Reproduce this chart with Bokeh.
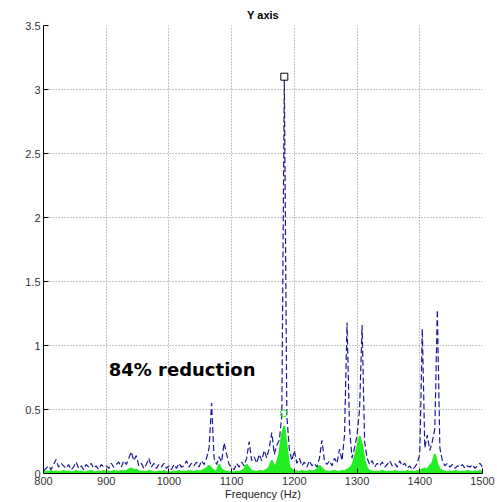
import numpy as np
from bokeh.plotting import figure
from bokeh.models import FixedTicker, CustomJSTickFormatter, Label, Title
from bokeh.embed import file_html
from bokeh.resources import INLINE

# ---- data ----
freq_step = 4
freq = list(range(800, 1501, freq_step))

blue_before = [
    # 800-896
    0.02, 0.04, 0.06, 0.03, 0.07, 0.11, 0.05, 0.08, 0.06, 0.04, 0.07, 0.03, 0.05,
    0.09, 0.04, 0.06, 0.03, 0.07, 0.05, 0.08, 0.04, 0.06, 0.03, 0.07, 0.05,
    # 900-996
    0.06, 0.04, 0.08, 0.05, 0.07, 0.09, 0.05, 0.10, 0.07, 0.12, 0.17, 0.10, 0.14,
    0.06, 0.08, 0.04, 0.07, 0.12, 0.05, 0.08, 0.04, 0.07, 0.05, 0.08, 0.04,
    # 1000-1096
    0.06, 0.03, 0.07, 0.04, 0.08, 0.05, 0.06, 0.10, 0.05, 0.08, 0.06, 0.09, 0.05,
    0.10, 0.07, 0.12, 0.20, 0.55, 0.12, 0.07, 0.13, 0.09, 0.24, 0.15, 0.07,
    # 1100-1196
    0.05, 0.03, 0.08, 0.05, 0.09, 0.06, 0.12, 0.25, 0.10, 0.13, 0.08, 0.15, 0.10,
    0.18, 0.12, 0.20, 0.32, 0.15, 0.22, 0.26, 0.45, 3.10, 0.45, 0.19, 0.10,
    # 1200-1296
    0.18, 0.08, 0.12, 0.06, 0.09, 0.05, 0.10, 0.06, 0.08, 0.05, 0.12, 0.26, 0.10,
    0.07, 0.10, 0.06, 0.12, 0.08, 0.19, 0.10, 0.30, 1.18, 0.35, 0.12, 0.20,
    # 1300-1396
    0.30, 0.50, 1.16, 0.25, 0.12, 0.07, 0.10, 0.05, 0.08, 0.06, 0.09, 0.05, 0.07,
    0.10, 0.06, 0.08, 0.05, 0.10, 0.06, 0.08, 0.04, 0.06, 0.03, 0.05, 0.08,
    # 1400-1500
    0.15, 1.13, 0.20, 0.30, 0.18, 0.25, 0.35, 1.28, 0.20, 0.10, 0.06, 0.08, 0.05,
    0.07, 0.04, 0.06, 0.05, 0.07, 0.04, 0.06, 0.05, 0.07, 0.04, 0.06, 0.08, 0.05,
]

green_after = [
    # 800-896
    0.010, 0.015, 0.010, 0.020, 0.010, 0.015, 0.010, 0.010, 0.020, 0.010, 0.015, 0.010, 0.010,
    0.020, 0.010, 0.015, 0.010, 0.010, 0.015, 0.020, 0.010, 0.010, 0.015, 0.010, 0.020,
    # 900-996
    0.010, 0.015, 0.010, 0.020, 0.015, 0.010, 0.020, 0.015, 0.020, 0.030, 0.040, 0.025, 0.030,
    0.015, 0.010, 0.015, 0.010, 0.020, 0.015, 0.010, 0.010, 0.015, 0.010, 0.020, 0.010,
    # 1000-1096
    0.010, 0.010, 0.015, 0.010, 0.020, 0.010, 0.015, 0.010, 0.020, 0.015, 0.010, 0.020, 0.015,
    0.020, 0.030, 0.040, 0.060, 0.040, 0.020, 0.015, 0.070, 0.030, 0.020, 0.015, 0.010,
    # 1100-1196
    0.010, 0.010, 0.015, 0.010, 0.020, 0.030, 0.070, 0.040, 0.020, 0.015, 0.010, 0.020, 0.015,
    0.020, 0.030, 0.050, 0.100, 0.050, 0.080, 0.150, 0.300, 0.370, 0.200, 0.050, 0.030,
    # 1200-1296
    0.020, 0.015, 0.010, 0.020, 0.015, 0.010, 0.020, 0.015, 0.020, 0.030, 0.060, 0.040, 0.020,
    0.015, 0.010, 0.015, 0.020, 0.015, 0.010, 0.020, 0.015, 0.030, 0.040, 0.060, 0.120,
    # 1300-1396
    0.200, 0.290, 0.220, 0.100, 0.040, 0.020, 0.015, 0.010, 0.015, 0.010, 0.020, 0.015, 0.010,
    0.015, 0.010, 0.020, 0.015, 0.010, 0.015, 0.010, 0.020, 0.010, 0.015, 0.010, 0.020,
    # 1400-1500
    0.020, 0.030, 0.040, 0.030, 0.060, 0.080, 0.150, 0.070, 0.030, 0.020, 0.015, 0.010, 0.015,
    0.010, 0.020, 0.015, 0.010, 0.015, 0.010, 0.020, 0.015, 0.010, 0.015, 0.010, 0.020, 0.010,
]

peak_before = (1184, 3.10)
peak_after = (1183, 0.47)

x_ticks = [800, 900, 1000, 1100, 1200, 1300, 1400, 1500]
y_ticks = [0, 0.5, 1, 1.5, 2, 2.5, 3, 3.5]

title_text = "Y axis"
x_label = "Frequency (Hz)"
annotation_text = "84% reduction"
annotation_pos = (904, 0.81)

# ---- figure ----
p = figure(width=497, height=502, output_backend="svg", toolbar_location=None,
           x_range=(800, 1500), y_range=(0, 3.5),
           min_border_left=43, min_border_right=15, min_border_top=25, min_border_bottom=28)
p.outline_line_color = None
p.background_fill_color = "white"
p.border_fill_color = "white"

t = Title(text=title_text, align="center", text_font="Liberation Sans",
          text_font_size="11px", text_font_style="bold", text_color="black", standoff=9)
p.title = t

for ax in (p.xaxis[0], p.yaxis[0]):
    ax.axis_line_color = "black"
    ax.major_tick_in = 5
    ax.major_tick_out = 0
    ax.minor_tick_line_color = None
    ax.major_tick_line_color = "black"
    ax.major_label_text_font = "Liberation Sans"
    ax.major_label_text_font_size = "11px"
    ax.major_label_text_color = "#333333"
    ax.major_label_standoff = 3

p.xaxis.ticker = FixedTicker(ticks=x_ticks)
p.yaxis.ticker = FixedTicker(ticks=y_ticks)
p.yaxis.formatter = CustomJSTickFormatter(code="return tick.toString();")
p.xaxis.axis_label = x_label
p.xaxis.axis_label_text_font = "Liberation Sans"
p.xaxis.axis_label_text_font_size = "11px"
p.xaxis.axis_label_text_font_style = "normal"
p.xaxis.axis_label_text_color = "#222222"
p.xaxis.axis_label_standoff = 0

for g in (p.xgrid[0], p.ygrid[0]):
    g.grid_line_color = "#8a8a8a"
    g.grid_line_dash = "1 2"
    g.grid_line_width = 1

green = "#22ee22"
blue = "#1a1a96"

p.varea(x=freq, y1=0, y2=green_after, fill_color=green, fill_alpha=1.0)
p.line(freq, green_after, line_color=green, line_width=2)
p.line(freq, blue_before, line_color=blue, line_width=1.2, line_dash="6 3")

p.scatter([peak_before[0]], [peak_before[1]], marker="square", size=7,
          line_color="black", fill_color="white", line_width=1)
p.scatter([peak_after[0]], [peak_after[1]], marker="circle", size=7,
          line_color=green, fill_color=None, line_width=1)

lab = Label(x=annotation_pos[0], y=annotation_pos[1], text=annotation_text,
            text_font="DejaVu Sans", text_font_size="18px", text_font_style="bold",
            text_color="black", text_baseline="alphabetic")
p.add_layout(lab)

open("out.html", "w").write(file_html(p, INLINE))
